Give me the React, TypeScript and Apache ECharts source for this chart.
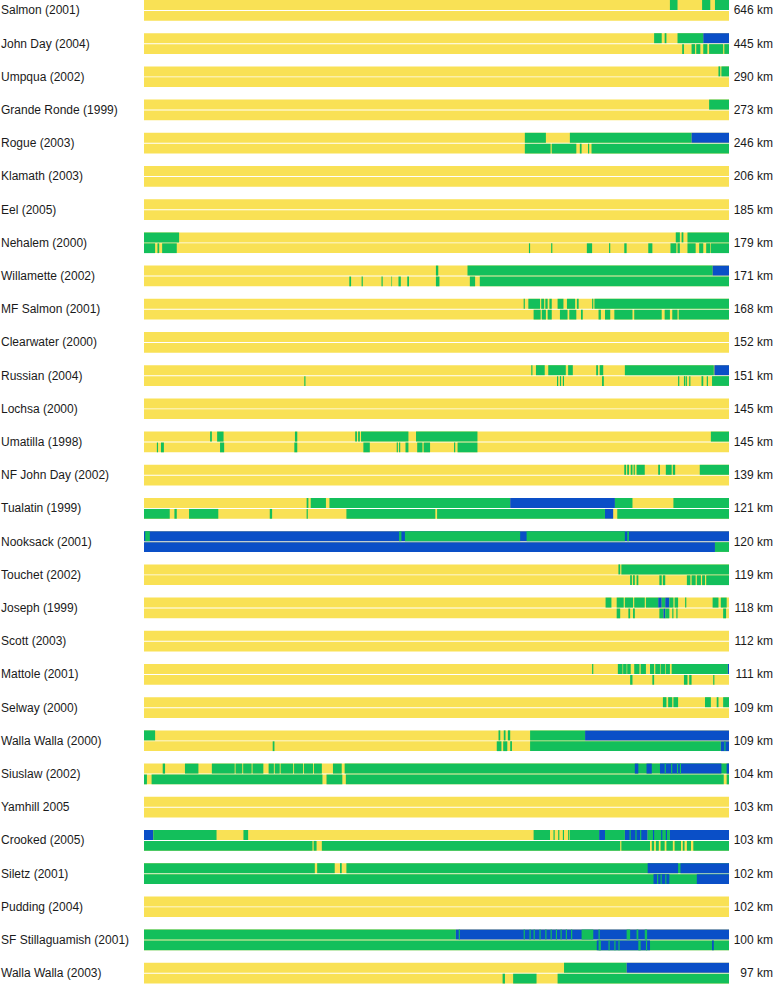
import React, { useEffect, useRef } from "react";
import * as echarts from "echarts";

type Seg = [number, number, string];

const rivers = [
  "Salmon (2001)", "John Day (2004)", "Umpqua (2002)", "Grande Ronde (1999)", "Rogue (2003)",
  "Klamath (2003)", "Eel (2005)", "Nehalem (2000)", "Willamette (2002)", "MF Salmon (2001)",
  "Clearwater (2000)", "Russian (2004)", "Lochsa (2000)", "Umatilla (1998)", "NF John Day (2002)",
  "Tualatin (1999)", "Nooksack (2001)", "Touchet (2002)", "Joseph (1999)", "Scott (2003)",
  "Mattole (2001)", "Selway (2000)", "Walla Walla (2000)", "Siuslaw (2002)", "Yamhill 2005",
  "Crooked (2005)", "Siletz (2001)", "Pudding (2004)", "SF Stillaguamish (2001)", "Walla Walla (2003)",
];

const lengthsKm = [646, 445, 290, 273, 246, 206, 185, 179, 171, 168, 152, 151, 145, 145, 139, 121, 120, 119, 118, 112, 111, 109, 109, 104, 103, 103, 102, 102, 100, 97];

// segments along each river (percent of length), drawn over a yellow base; G = green, B = blue
const topSegments: Seg[][] = [
  [[89.9, 91.2, "G"], [95.4, 96.8, "G"], [97.6, 100, "G"]],
  [[87.2, 88.5, "G"], [89.0, 89.3, "G"], [91.2, 95.6, "G"], [95.6, 100, "B"]],
  [[98.2, 98.5, "G"], [98.7, 100, "G"]],
  [[96.6, 100, "G"]],
  [[65.1, 68.7, "G"], [72.8, 93.6, "G"], [93.6, 100, "B"]],
  [],
  [],
  [[0, 6.0, "G"], [90.9, 91.6, "G"], [91.9, 92.2, "G"], [92.9, 100, "G"]],
  [[49.9, 50.3, "G"], [55.3, 97.2, "G"], [97.2, 100, "B"]],
  [[64.9, 65.1, "G"], [65.7, 67.7, "G"], [67.9, 68.4, "G"], [68.6, 69.0, "G"], [69.3, 69.7, "G"], [70.7, 71.7, "G"], [72.3, 73.7, "G"], [74.0, 74.3, "G"], [76.6, 76.8, "G"], [77.0, 100, "G"]],
  [],
  [[66.2, 66.4, "G"], [67.0, 68.5, "G"], [69.1, 72.1, "G"], [72.5, 73.3, "G"], [77.3, 77.6, "G"], [77.9, 78.5, "G"], [82.2, 97.4, "G"], [97.5, 100, "B"]],
  [],
  [[11.3, 11.6, "G"], [12.5, 13.6, "G"], [25.8, 26.2, "G"], [36.1, 36.4, "G"], [36.6, 36.9, "G"], [37.1, 45.2, "G"], [46.5, 57.0, "G"], [96.9, 100, "G"]],
  [[82.1, 82.4, "G"], [82.6, 82.9, "G"], [83.2, 83.5, "G"], [83.7, 83.9, "G"], [84.2, 85.6, "G"], [87.9, 88.2, "G"], [89.2, 90.2, "G"], [90.4, 90.8, "G"], [95.0, 100, "G"]],
  [[27.8, 28.1, "G"], [28.5, 31.1, "G"], [31.7, 62.6, "G"], [62.6, 80.5, "B"], [80.5, 83.5, "G"], [90.5, 100, "G"]],
  [[0, 100, "B"], [0.2, 1.0, "G"], [43.6, 44.0, "G"], [44.6, 64.3, "G"], [65.4, 82.2, "G"], [82.6, 82.9, "G"]],
  [[81.1, 81.4, "G"], [81.6, 100, "G"]],
  [[78.9, 79.9, "G"], [80.8, 82.0, "G"], [82.2, 83.6, "G"], [83.8, 85.6, "G"], [85.8, 87.9, "G"], [87.9, 88.5, "B"], [88.5, 89.1, "G"], [89.1, 89.8, "B"], [89.8, 90.5, "G"], [90.7, 91.3, "G"], [92.5, 92.7, "G"], [97.2, 98.2, "G"], [98.6, 99.6, "G"]],
  [],
  [[76.6, 76.8, "G"], [81.0, 81.8, "G"], [81.9, 82.5, "G"], [82.6, 83.2, "G"], [83.8, 84.7, "G"], [84.9, 85.8, "G"], [86.5, 87.2, "G"], [87.4, 88.2, "G"], [88.3, 89.1, "G"], [89.2, 89.9, "G"], [90.2, 99.8, "G"], [99.8, 100, "B"]],
  [[88.7, 89.3, "G"], [89.6, 90.3, "G"], [90.5, 91.3, "G"], [95.9, 96.9, "G"], [97.9, 98.2, "G"], [99.0, 100, "G"]],
  [[0, 1.9, "G"], [60.6, 60.9, "G"], [61.5, 61.8, "G"], [62.2, 62.6, "G"], [66.0, 75.4, "G"], [75.4, 100, "B"]],
  [[3.2, 3.6, "G"], [7.0, 9.3, "G"], [11.6, 15.5, "G"], [15.65, 16.8, "G"], [16.95, 18.4, "G"], [18.55, 20.4, "G"], [21.3, 22.2, "G"], [22.35, 23.2, "G"], [23.35, 25.5, "G"], [25.65, 27.2, "G"], [27.35, 28.9, "G"], [29.05, 30.4, "G"], [32.3, 33.8, "G"], [34.3, 100, "G"], [83.9, 84.5, "B"], [85.9, 86.8, "B"], [88.2, 98.7, "B"], [99.6, 100, "B"], [89.0, 89.2, "G"], [90.1, 90.3, "G"], [91.1, 91.3, "G"], [91.6, 91.8, "G"]],
  [],
  [[0, 1.6, "B"], [1.6, 12.4, "G"], [17.0, 17.8, "G"], [66.6, 69.4, "G"], [70.0, 70.2, "G"], [70.8, 71.0, "G"], [71.6, 71.8, "G"], [72.5, 72.7, "G"], [72.8, 77.8, "G"], [77.8, 78.8, "B"], [78.8, 82.2, "G"], [82.2, 86.1, "B"], [83.0, 83.2, "G"], [84.0, 84.2, "G"], [84.8, 85.0, "G"], [86.1, 89.9, "G"], [87.0, 87.2, "B"], [88.4, 88.6, "B"], [89.2, 89.4, "B"], [89.9, 100, "B"]],
  [[0, 29.2, "G"], [29.6, 32.6, "G"], [33.5, 33.8, "G"], [34.6, 100, "G"], [86.1, 91.3, "B"], [91.7, 100, "B"]],
  [],
  [[0, 53.3, "G"], [53.3, 100, "B"], [53.8, 54.0, "G"], [64.9, 65.1, "G"], [65.9, 66.1, "G"], [66.6, 66.8, "G"], [67.6, 67.8, "G"], [68.6, 68.8, "G"], [69.5, 69.7, "G"], [70.4, 70.6, "G"], [71.2, 71.4, "G"], [72.1, 72.3, "G"], [73.0, 73.2, "G"], [74.8, 76.8, "G"], [77.7, 77.9, "G"], [82.5, 83.1, "G"], [84.2, 84.5, "G"], [85.6, 86.0, "G"]],
  [[71.8, 82.5, "G"], [82.5, 100, "B"]],
];

const bottomSegments: Seg[][] = [
  [],
  [[92.0, 92.3, "G"], [93.6, 94.2, "G"], [94.4, 95.1, "G"], [95.6, 96.3, "G"], [96.6, 99.0, "G"], [99.2, 100, "G"]],
  [],
  [],
  [[65.1, 69.5, "G"], [69.7, 73.9, "G"], [74.5, 74.8, "G"], [75.9, 76.1, "G"], [76.5, 100, "G"]],
  [],
  [],
  [[0, 1.9, "G"], [2.3, 2.6, "G"], [3.1, 5.6, "G"], [65.8, 66.0, "G"], [69.6, 69.8, "G"], [75.7, 76.6, "G"], [79.5, 79.7, "G"], [82.1, 82.5, "G"], [86.2, 86.9, "G"], [90.0, 91.0, "G"], [91.2, 91.6, "G"], [92.9, 94.3, "G"], [94.9, 95.6, "G"], [96.1, 96.8, "G"], [96.9, 100, "G"]],
  [[35.1, 35.4, "G"], [37.2, 37.4, "G"], [40.6, 40.8, "G"], [42.3, 42.4, "G"], [43.5, 43.9, "G"], [45.0, 45.3, "G"], [49.9, 50.5, "G"], [55.7, 56.6, "G"], [57.4, 100, "G"]],
  [[66.6, 67.8, "G"], [68.0, 68.7, "G"], [69.0, 69.7, "G"], [71.1, 72.4, "G"], [72.7, 73.9, "G"], [74.7, 75.0, "G"], [77.7, 78.1, "G"], [78.8, 79.7, "G"], [80.4, 83.5, "G"], [83.8, 88.5, "G"], [89.0, 89.9, "G"], [90.3, 91.2, "G"], [91.4, 100, "G"]],
  [],
  [[27.4, 27.6, "G"], [70.6, 70.8, "G"], [71.1, 71.3, "G"], [71.6, 71.8, "G"], [78.3, 78.6, "G"], [91.3, 91.5, "G"], [92.3, 92.5, "G"], [92.6, 92.8, "G"], [93.2, 93.4, "G"], [95.3, 95.6, "G"], [96.2, 96.4, "G"], [97.1, 100, "G"]],
  [],
  [[2.2, 2.4, "G"], [2.9, 3.4, "G"], [13.0, 13.7, "G"], [25.7, 26.2, "G"], [37.5, 38.6, "G"], [43.2, 43.4, "G"], [43.6, 43.8, "G"], [44.7, 45.2, "G"], [46.7, 47.6, "G"], [47.8, 48.9, "G"], [53.0, 53.2, "G"], [53.6, 57.0, "G"]],
  [],
  [[0, 4.4, "G"], [5.2, 5.6, "G"], [7.7, 12.7, "G"], [21.5, 21.9, "G"], [27.8, 28.0, "G"], [34.6, 49.8, "G"], [50.1, 78.8, "G"], [78.8, 80.2, "B"], [80.9, 100, "G"]],
  [[0, 97.6, "B"], [97.6, 100, "G"]],
  [[83.1, 83.4, "G"], [83.6, 83.9, "G"], [84.2, 84.5, "G"], [88.1, 88.5, "G"], [88.7, 89.1, "G"], [92.8, 93.4, "G"], [93.6, 94.3, "G"], [94.5, 95.2, "G"], [95.4, 95.9, "G"], [96.1, 100, "G"]],
  [[80.8, 81.4, "G"], [82.8, 83.1, "G"], [83.6, 83.9, "G"], [88.1, 88.8, "G"], [88.8, 89.1, "B"], [89.1, 89.8, "G"], [90.3, 90.5, "G"], [91.0, 91.2, "G"], [99.0, 99.5, "G"]],
  [],
  [[83.1, 83.5, "G"], [86.9, 87.2, "G"], [92.3, 92.9, "G"], [93.2, 93.6, "G"], [97.3, 97.5, "G"]],
  [],
  [[22.0, 22.3, "G"], [60.3, 61.1, "G"], [61.4, 62.1, "G"], [62.6, 62.9, "G"], [66.0, 98.6, "G"], [98.6, 100, "B"], [99.2, 99.4, "G"]],
  [[0, 0.5, "G"], [1.3, 30.5, "G"], [31.2, 33.9, "G"], [34.5, 99.1, "G"], [99.6, 100, "G"]],
  [],
  [[0, 28.8, "G"], [29.0, 29.5, "G"], [30.4, 81.4, "G"], [81.6, 86.5, "G"], [86.8, 87.2, "G"], [87.5, 88.0, "G"], [88.3, 89.0, "G"], [89.3, 90.4, "G"], [90.7, 91.8, "G"], [92.1, 92.4, "G"], [92.8, 93.5, "G"], [93.9, 100, "G"]],
  [[0, 100, "G"], [87.1, 89.8, "B"], [94.5, 100, "B"], [87.7, 87.9, "G"], [88.3, 88.5, "G"], [89.1, 89.3, "G"]],
  [],
  [[0, 100, "G"], [77.4, 86.5, "B"], [77.7, 78.1, "G"], [79.4, 79.6, "G"], [80.4, 80.6, "G"], [81.1, 81.3, "G"], [84.5, 84.9, "G"], [85.8, 86.0, "G"], [97.1, 97.4, "B"]],
  [[61.3, 61.7, "G"], [63.1, 67.1, "G"], [70.7, 100, "G"]],
];

const COLORS: Record<string, string> = { Y: "#F9E155", G: "#13BF5B", B: "#0A4FC7" };

export default function App() {
  const ref = useRef<HTMLDivElement>(null);
  useEffect(() => {
    if (!ref.current) return;
    const chart = echarts.init(ref.current, undefined, { renderer: "svg" });

    const data: any[] = [];
    const colorKeys = ["Y", "G", "B"];
    rivers.forEach((_, i) => {
      [0, 1].forEach((strip) => {
        data.push([0, 100, i, strip, 0]);
        const segs = strip === 0 ? topSegments[i] : bottomSegments[i];
        segs.forEach((s) => data.push([s[0], s[1], i, strip, colorKeys.indexOf(s[2])]));
      });
    });

    const labelFont = {
      fontFamily: "Liberation Sans, Arial, sans-serif",
      fontSize: 12,
      color: "#1a1a1a",
      padding: [2, 0, 0, 0],
    };

    chart.setOption({
      animation: false,
      backgroundColor: "#ffffff",
      grid: { left: 144, right: 45, top: -6.25, bottom: -5.75, outerBoundsMode: "none", containLabel: false },
      xAxis: { type: "value", min: 0, max: 100, show: false },
      yAxis: [
        {
          type: "category",
          data: rivers,
          inverse: true,
          position: "left",
          axisLine: { show: false },
          axisTick: { show: false },
          splitLine: { show: false },
          axisLabel: { ...labelFont, align: "left", margin: 143, interval: 0 },
        },
        {
          type: "category",
          data: lengthsKm.map((k) => `${k} km`),
          inverse: true,
          position: "right",
          axisLine: { show: false },
          axisTick: { show: false },
          splitLine: { show: false },
          axisLabel: { ...labelFont, align: "right", margin: 44, interval: 0 },
        },
      ],
      series: [
        {
          type: "custom",
          xAxisIndex: 0,
          yAxisIndex: 0,
          encode: { x: [0, 1], y: 2 },
          data,
          renderItem: (params: any, api: any) => {
            const s = api.value(0);
            const e = api.value(1);
            const row = api.value(2);
            const strip = api.value(3);
            const c = api.value(4);
            const p0 = api.coord([s, row]);
            const p1 = api.coord([e, row]);
            const band = api.size([0, 1])[1];
            const y = strip === 0 ? p0[1] - 0.312 * band : p0[1] + 0.018 * band;
            const h = strip === 0 ? 0.301 * band : 0.294 * band;
            return {
              type: "rect",
              shape: { x: p0[0], y, width: Math.max(p1[0] - p0[0], 0.5), height: h },
              style: { fill: COLORS[colorKeys[c]] },
            };
          },
        },
      ],
    });
    return () => chart.dispose();
  }, []);
  return <div ref={ref} style={{ position: "absolute", left: 0, top: 0, width: 774, height: 984 }} />;
}
